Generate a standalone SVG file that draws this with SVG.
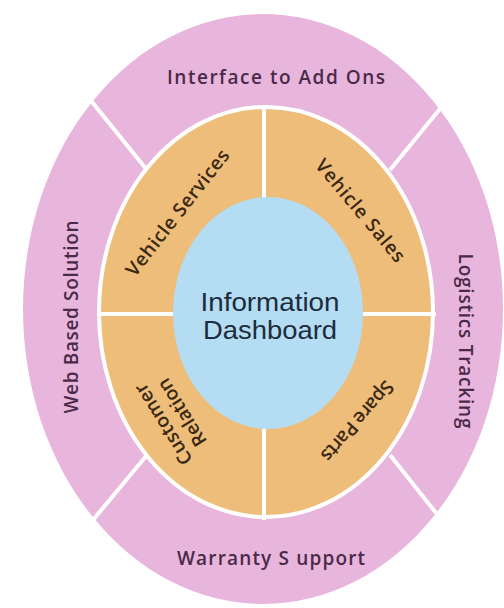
<svg xmlns="http://www.w3.org/2000/svg" width="504" height="608" viewBox="0 0 504 608">
<style>
.outer{font-family:"Open Sans","Liberation Sans",sans-serif;font-weight:600;font-size:19px;fill:#4a2a48;text-anchor:middle}
.inner{font-family:"Open Sans","Liberation Sans",sans-serif;font-weight:600;font-size:19px;fill:#3a2812;text-anchor:middle}
.center{font-family:"Liberation Sans",Arial,sans-serif;font-size:25px;fill:#1c2c3c;text-anchor:middle}
.div{stroke:#ffffff;stroke-width:4;fill:none}
</style>
<rect width="504" height="608" fill="#ffffff"/>
<g id="ring-outer">
<ellipse cx="263" cy="309" rx="240" ry="295" fill="#e8b6dc"/>
</g>
<g id="connectors">
<line class="div" x1="88" y1="97" x2="147" y2="170"/>
<line class="div" x1="448" y1="99" x2="390" y2="170"/>
<line class="div" x1="147" y1="455" x2="88" y2="526"/>
<line class="div" x1="390" y1="455" x2="448" y2="528"/>
</g>
<g id="ring-inner">
<ellipse cx="266" cy="312" rx="167" ry="205" fill="#eebd7a" stroke="#ffffff" stroke-width="4"/>
<line class="div" x1="264" y1="105" x2="264" y2="200"/>
<line class="div" x1="264" y1="425" x2="264" y2="520"/>
<line class="div" x1="97" y1="314" x2="176" y2="314"/>
<line class="div" x1="360" y1="314" x2="436" y2="314"/>
</g>
<g id="center-node">
<ellipse cx="268" cy="313" rx="95" ry="116" fill="#b4dcf2"/>
<text class="center" x="270" y="311" textLength="139" lengthAdjust="spacingAndGlyphs">Information</text>
<text class="center" x="270" y="339" textLength="134" lengthAdjust="spacingAndGlyphs">Dashboard</text>
</g>
<g id="interface-to-add-ons">
<text class="outer" x="276" y="84" textLength="218" lengthAdjust="spacing">Interface to Add Ons</text>
</g>
<g id="warranty-support">
<text class="outer" x="271" y="565" textLength="188" lengthAdjust="spacing">Warranty S upport</text>
</g>
<g id="web-based-solution">
<text class="outer" transform="translate(78 317) rotate(-90)" x="0" y="0" textLength="193" lengthAdjust="spacing">Web Based Solution</text>
</g>
<g id="logistics-tracking">
<text class="outer" transform="translate(459 341) rotate(90)" x="0" y="0" textLength="175" lengthAdjust="spacing">Logistics Tracking</text>
</g>
<g id="vehicle-services">
<text class="inner" transform="translate(178 213) rotate(-52)" x="0" y="6" textLength="155" lengthAdjust="spacing">Vehicle Services</text>
</g>
<g id="vehicle-sales">
<text class="inner" transform="translate(360 211) rotate(50)" x="0" y="6" textLength="128" lengthAdjust="spacing">Vehicle Sales</text>
</g>
<g id="spare-parts">
<text class="inner" transform="translate(357 421) rotate(131)" x="0" y="6" textLength="100" lengthAdjust="spacing">Spare Parts</text>
</g>
<g id="customer-relation">
<g transform="translate(173 418) rotate(238)">
<text class="inner" x="0" y="-5" textLength="92" lengthAdjust="spacing">Customer</text>
<text class="inner" x="0" y="17" textLength="76" lengthAdjust="spacing">Relation</text>
</g>
</g>
</svg>
